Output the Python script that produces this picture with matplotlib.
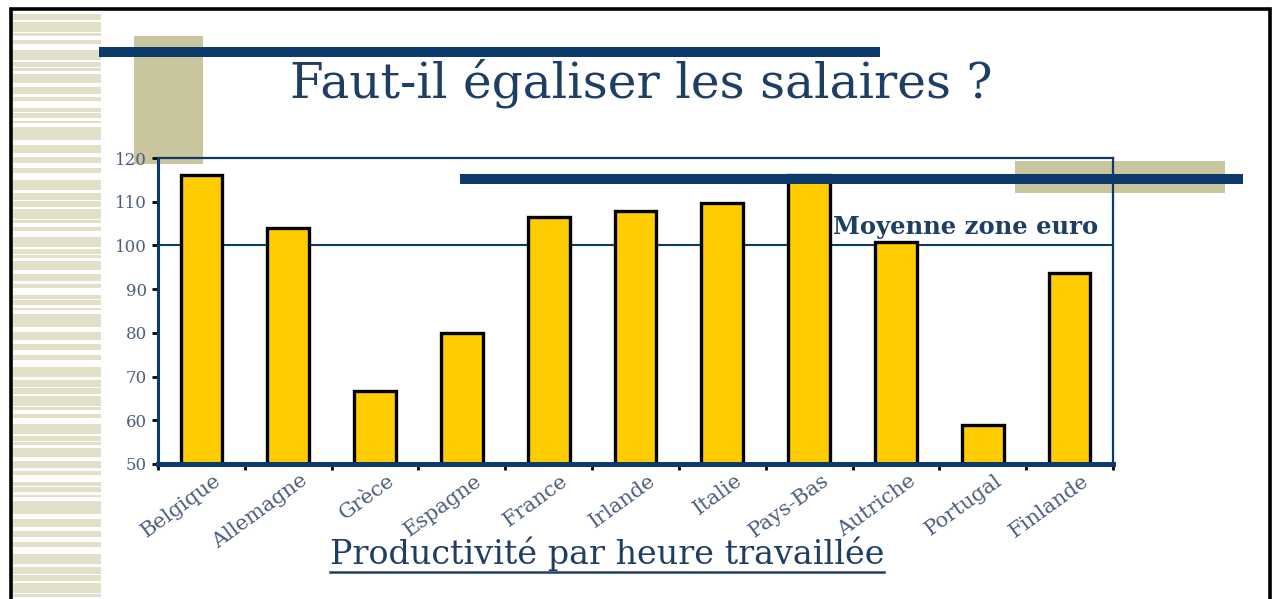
import matplotlib.pyplot as plt
from matplotlib.patches import Rectangle
from matplotlib.lines import Line2D
from matplotlib.transforms import ScaledTranslation

# data (index, zone euro = 100)
pays = ['Belgique', 'Allemagne', 'Grèce', 'Espagne', 'France', 'Irlande',
        'Italie', 'Pays-Bas', 'Autriche', 'Portugal', 'Finlande']
productivite = [116.2, 104.0, 66.7, 80.0, 106.5, 107.9,
                109.8, 116.0, 100.8, 58.9, 93.7]
moyenne_euro = 100
y_ticks = [50, 60, 70, 80, 90, 100, 110, 120]

W, H = 1278, 599
navy = '#0c3a6b'
text_blue = '#1f3e66'
tick_blue = '#4a5e7c'
beige = '#c9c59d'
stripe = '#e3e0ca'
serif = 'DejaVu Serif'  # wide serif, closer to the stretched slide text

fig = plt.figure(figsize=(W / 100, H / 100), dpi=100)

# background layer in pixel coords (y down)
bg = fig.add_axes([0, 0, 1, 1], zorder=0)
bg.set_xlim(0, W)
bg.set_ylim(H, 0)
bg.axis('off')

# left striped band
stripes = [(14, 6), (22, 10), (33, 3), (40, 4), (50, 10), (62, 5), (68, 3),
           (74, 9), (87, 7), (97, 4), (108, 4), (113, 5), (121, 2), (127, 13),
           (145, 8), (157, 6), (168, 5), (180, 10), (193, 7)]
offset = 0
while offset < H:
    for top, h in stripes:
        bg.add_patch(Rectangle((13, top + offset), 88, h, color=stripe, lw=0))
    offset += 187

# beige blocks
bg.add_patch(Rectangle((134, 36), 69, 128, color=beige, lw=0))
bg.add_patch(Rectangle((1015, 161), 210, 32, color=beige, lw=0))

# slide frame
bg.plot([11, 11, 1270, 1270], [H, 9, 9, H], color='black', lw=2.6,
        solid_joinstyle='miter')

# chart
ax = fig.add_axes([158 / W, (H - 464) / H, 955 / W, 306 / H], zorder=1)
ax.patch.set_alpha(0)
x = range(len(pays))
ax.bar(x, productivite, width=0.48, bottom=0, color='#ffcc00',
       edgecolor='black', linewidth=2.4, zorder=3)
ax.axhline(moyenne_euro, color=navy, lw=1.5, zorder=2)
ax.set_ylim(50, 120)
ax.set_xlim(-0.5, len(pays) - 0.5)

for side, lw in [('left', 2.2), ('bottom', 3.6), ('top', 1.6), ('right', 1.6)]:
    ax.spines[side].set_color(navy)
    ax.spines[side].set_linewidth(lw)
    ax.spines[side].set_zorder(4)

ax.set_yticks(y_ticks)
ax.set_yticklabels([str(v) for v in y_ticks], family=serif, fontsize=12,
                   color=tick_blue)
ax.tick_params(axis='y', direction='out', length=4, width=2, color='black',
               pad=4)

ax.set_xticks(list(x))
ax.set_xticklabels(pays, family=serif, fontsize=15, color=tick_blue,
                   rotation=36, ha='right', rotation_mode='anchor')
ax.tick_params(axis='x', which='major', length=0, pad=5)
shift = ScaledTranslation(12 / 100, 0, fig.dpi_scale_trans)
for lab in ax.get_xticklabels():
    lab.set_transform(lab.get_transform() + shift)
ax.set_xticks([i - 0.5 for i in range(len(pays) + 1)], minor=True)
ax.tick_params(axis='x', which='minor', direction='out', length=4, width=2,
               color='black')

ax.text(7.28, 102.7, 'Moyenne zone euro', family=serif, fontsize=17.5,
        fontweight='bold', color=text_blue, va='baseline', clip_on=False,
        zorder=5)

# foreground decoration: navy rules
fg = fig.add_axes([0, 0, 1, 1], zorder=2)
fg.set_xlim(0, W)
fg.set_ylim(H, 0)
fg.axis('off')
fg.patch.set_alpha(0)
fg.add_patch(Rectangle((99, 47), 781, 10, color=navy, lw=0))
fg.add_patch(Rectangle((460, 174), 783, 10, color=navy, lw=0))

# title and caption
fg.text(641, 98, 'Faut-il égaliser les salaires ?', family=serif,
        fontsize=35, color=text_blue, ha='center', va='baseline')
cap = fg.text(607, 564, 'Productivité par heure travaillée', family=serif,
              fontsize=24, color=text_blue, ha='center', va='baseline')

fig.canvas.draw()
bb = cap.get_window_extent()
fg.add_line(Line2D([bb.x0, bb.x1], [572, 572], color=text_blue, lw=1.8))

fig.savefig('out.png', dpi=100)
